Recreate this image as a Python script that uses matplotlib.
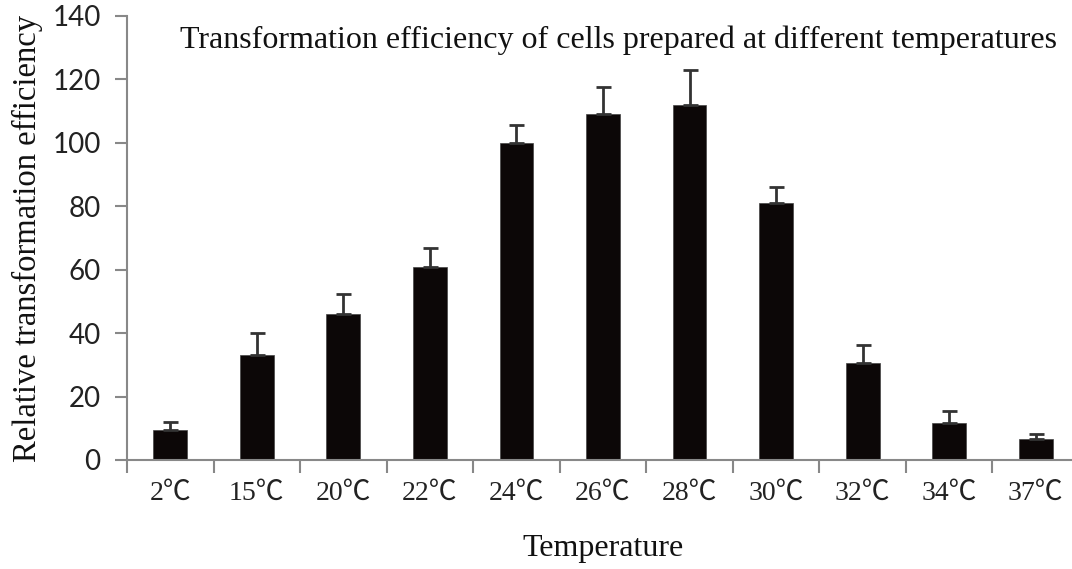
import matplotlib
matplotlib.use("Agg")
import matplotlib.pyplot as plt
import numpy as np

# data
temps = ["2℃", "15℃", "20℃", "22℃", "24℃", "26℃", "28℃", "30℃", "32℃", "34℃", "37℃"]
efficiency = [9.5, 33, 46, 61, 100, 109, 112, 81, 30.6, 11.6, 6.5]
err_top = [12.1, 40.1, 52.2, 66.7, 105.6, 117.7, 122.9, 86.0, 36.4, 15.3, 8.2]
errors = [t - v for t, v in zip(err_top, efficiency)]

serif = ["Liberation Serif", "Noto Sans CJK SC", "DejaVu Sans"]

fig = plt.figure(figsize=(10.72, 5.69), dpi=100)
ax = fig.add_axes([127 / 1072, (569 - 460) / 569, (1079 - 127) / 1072, (460 - 16) / 569])

x = np.arange(len(temps))
ax.bar(x, efficiency, width=0.39, color="#0c0707", edgecolor="#444444", linewidth=0.5, zorder=2)
ax.errorbar(x, efficiency, yerr=[np.zeros(len(errors)), errors], fmt="none",
            ecolor="#333333", elinewidth=2, capsize=5.4, capthick=2, zorder=3)

ax.set_xlim(-0.5, len(temps) - 0.5)
ax.set_ylim(0, 140)
ax.set_yticks(range(0, 141, 20))
ax.set_xticks(x)
ax.set_xticklabels(temps, fontfamily=serif, fontsize=20, color="#222222")
ax.set_xticks(np.arange(len(temps) + 1) - 0.5, minor=True)
ax.tick_params(axis="x", which="major", length=0, pad=15)
ax.tick_params(axis="x", which="minor", length=9, width=1.5, color="#888888", direction="out")
ax.tick_params(axis="y", length=9, width=1.5, color="#888888", labelsize=20, pad=10)
for lab in ax.get_yticklabels():
    lab.set_fontfamily("Lato")
    lab.set_color("#222222")

for s in ["top", "right"]:
    ax.spines[s].set_visible(False)
for s in ["left", "bottom"]:
    ax.spines[s].set_color("#888888")
    ax.spines[s].set_linewidth(1.5)

ax.set_ylabel("Relative transformation efficiency", fontfamily=serif, fontsize=23.5,
              labelpad=7, color="#111111")
ax.set_xlabel("Temperature", fontfamily=serif, fontsize=23, labelpad=20, color="#111111")
fig.text(180 / 1072, 1 - 40 / 569, "Transformation efficiency of cells prepared at different temperatures",
         fontfamily=serif, fontsize=23, va="center", ha="left", color="#111111")

fig.savefig("out.png", dpi=100)
